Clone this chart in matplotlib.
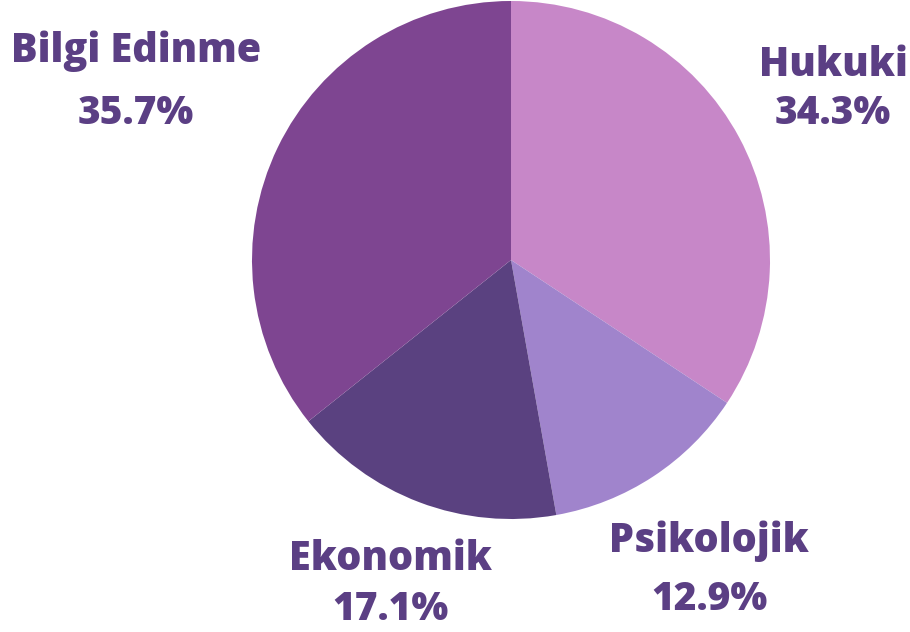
import matplotlib.pyplot as plt

labels = ["Hukuki", "Psikolojik", "Ekonomik", "Bilgi Edinme"]
shares = [34.3, 12.9, 17.1, 35.7]
colors = ["#C787C8", "#A084CC", "#5A4180", "#7E4591"]

# label anchor points in pixels (x, y of name line, y of percent line)
label_pos = [(833, 65, 114), (709, 541, 600), (390, 559, 609), (136, 51, 113)]

W, H = 910, 632
text_color = "#5B3F84"

fig = plt.figure(figsize=(W / 100, H / 100), dpi=100)
ax = fig.add_axes([0, 0, 1, 1])

ax.pie(shares, colors=colors, startangle=90, counterclock=False,
       center=(511, H - 260), radius=259, frame=True,
       wedgeprops={"linewidth": 0})
ax.set_xlim(0, W)
ax.set_ylim(0, H)
ax.set_aspect("equal")
ax.axis("off")

for name, val, (x, y1, y2) in zip(labels, shares, label_pos):
    ax.text(x, H - y1, name, ha="center", va="center", fontsize=28.5,
            fontweight=800, family="Open Sans", color=text_color)
    ax.text(x, H - y2, f"{val}%", ha="center", va="center", fontsize=28,
            fontweight=800, family="Open Sans", color=text_color)

fig.savefig("out.png", dpi=100)
